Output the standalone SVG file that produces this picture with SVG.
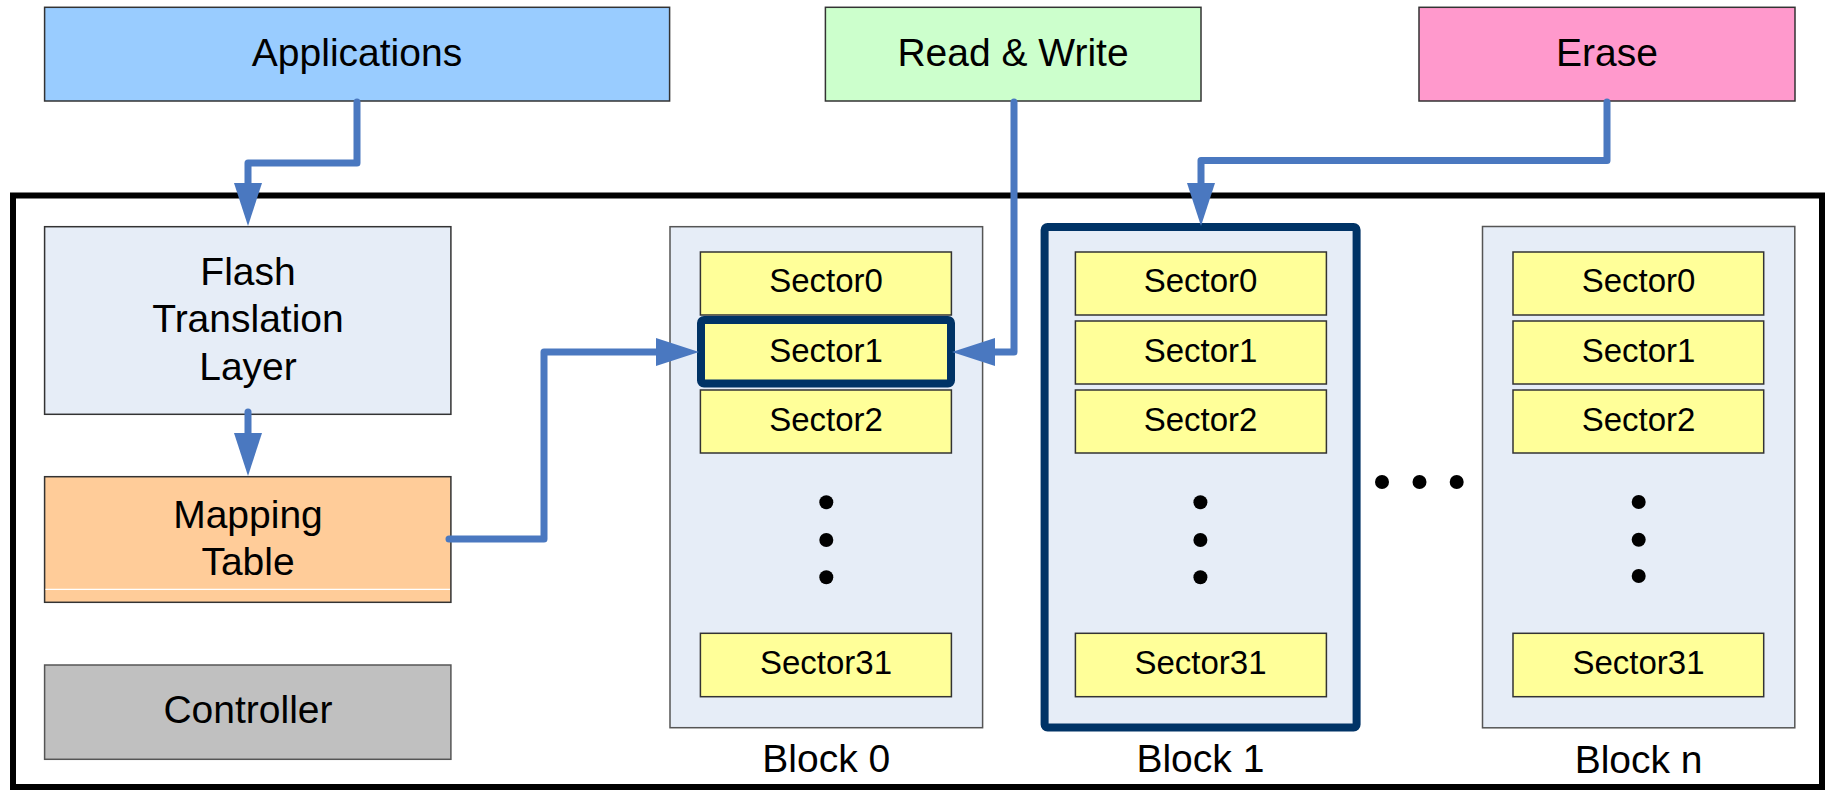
<svg xmlns="http://www.w3.org/2000/svg" width="1825" height="790" viewBox="0 0 1825 790">
<style>
.box{stroke:#333;stroke-width:1.5}
.lbl{font-family:"Liberation Sans",Arial,sans-serif;font-size:39px;fill:#000;text-anchor:middle}
.sec{fill:#FFFF99;stroke:#333;stroke-width:1.5}
.stxt{font-family:"Liberation Sans",Arial,sans-serif;font-size:33px;fill:#000;text-anchor:middle}
.blk{fill:#E6EDF7;stroke:#555;stroke-width:1.5}
.hl{stroke:#003366;stroke-width:8}
.conn{fill:none;stroke:#4A78C0;stroke-width:7;stroke-linecap:round;stroke-linejoin:round}
.dot{fill:#000}
</style>
<defs>
<marker id="ah" markerUnits="userSpaceOnUse" markerWidth="44" markerHeight="30" refX="0" refY="14" orient="auto">
<path d="M0,0 L43,14 L0,28 z" fill="#4A78C0"/>
</marker>
</defs>
<rect id="container" x="13" y="195.5" width="1809" height="591.5" fill="#fff" stroke="#000" stroke-width="6"/>
<g id="applications">
<rect class="box" x="44.6" y="7.3" width="625" height="93.7" fill="#99CCFF"/>
<text class="lbl" x="357" y="66">Applications</text>
</g>
<g id="readwrite">
<rect class="box" x="825.4" y="7.3" width="375.6" height="93.7" fill="#CCFFCC"/>
<text class="lbl" x="1013" y="66">Read &amp; Write</text>
</g>
<g id="erase">
<rect class="box" x="1419" y="7.3" width="376" height="93.7" fill="#FF99CC"/>
<text class="lbl" x="1607" y="66">Erase</text>
</g>
<g id="ftl">
<rect class="box" x="44.6" y="226.7" width="406.3" height="187.6" fill="#E6EDF7"/>
<text class="lbl" x="248" y="285">Flash</text>
<text class="lbl" x="248" y="332">Translation</text>
<text class="lbl" x="248" y="379.5">Layer</text>
</g>
<g id="mapping">
<rect class="box" x="44.6" y="476.7" width="406.3" height="125.6" fill="#FFCC99"/>
<line x1="45.5" y1="589.3" x2="450" y2="589.3" stroke="#fff" stroke-width="1.2"/>
<text class="lbl" x="248" y="528">Mapping</text>
<text class="lbl" x="248" y="575">Table</text>
</g>
<g id="controller">
<rect x="44.6" y="665" width="406.3" height="94.3" fill="#C0C0C0" stroke="#555" stroke-width="1.5"/>
<text class="lbl" x="248" y="723">Controller</text>
</g>
<g id="block0">
<rect class="blk" x="670" y="226.7" width="312.6" height="501"/>
<rect class="sec" x="700.4" y="252" width="251" height="63"/>
<text class="stxt" x="826" y="292">Sector0</text>
<rect class="sec hl" x="701" y="320" width="250" height="63.5" rx="3"/>
<text class="stxt" x="826" y="362">Sector1</text>
<rect class="sec" x="700.4" y="390" width="251" height="63"/>
<text class="stxt" x="826" y="431">Sector2</text>
<circle class="dot" cx="826.3" cy="502.3" r="7"/>
<circle class="dot" cx="826.3" cy="540" r="7"/>
<circle class="dot" cx="826.3" cy="577.3" r="7"/>
<rect class="sec" x="700.4" y="633.3" width="251" height="63.4"/>
<text class="stxt" x="826" y="674">Sector31</text>
<text class="lbl" x="826.3" y="772">Block 0</text>
</g>
<g id="block1">
<rect x="1044.6" y="227" width="312" height="500.5" rx="3" fill="#E6EDF7" stroke="#003366" stroke-width="8"/>
<rect class="sec" x="1075.4" y="252" width="251" height="63"/>
<text class="stxt" x="1200.5" y="292">Sector0</text>
<rect class="sec" x="1075.4" y="321" width="251" height="63"/>
<text class="stxt" x="1200.5" y="362">Sector1</text>
<rect class="sec" x="1075.4" y="390" width="251" height="63"/>
<text class="stxt" x="1200.5" y="431">Sector2</text>
<circle class="dot" cx="1200.4" cy="502.3" r="7"/>
<circle class="dot" cx="1200.4" cy="540" r="7"/>
<circle class="dot" cx="1200.4" cy="577.3" r="7"/>
<rect class="sec" x="1075.4" y="633.3" width="251" height="63.4"/>
<text class="stxt" x="1200.5" y="674">Sector31</text>
<text class="lbl" x="1200.4" y="772">Block 1</text>
</g>
<g id="ellipsis">
<circle class="dot" cx="1382" cy="482" r="7"/>
<circle class="dot" cx="1419.5" cy="482" r="7"/>
<circle class="dot" cx="1456.7" cy="482" r="7"/>
</g>
<g id="blockn">
<rect class="blk" x="1482.5" y="226.5" width="312.3" height="501.3"/>
<rect class="sec" x="1513" y="252" width="250.7" height="63"/>
<text class="stxt" x="1638.5" y="292">Sector0</text>
<rect class="sec" x="1513" y="321" width="250.7" height="63"/>
<text class="stxt" x="1638.5" y="362">Sector1</text>
<rect class="sec" x="1513" y="390" width="250.7" height="63"/>
<text class="stxt" x="1638.5" y="431">Sector2</text>
<circle class="dot" cx="1638.7" cy="502" r="7"/>
<circle class="dot" cx="1638.7" cy="539.7" r="7"/>
<circle class="dot" cx="1638.7" cy="576" r="7"/>
<rect class="sec" x="1513" y="633.3" width="250.7" height="63.4"/>
<text class="stxt" x="1638.5" y="674">Sector31</text>
<text class="lbl" x="1638.6" y="773">Block n</text>
</g>
<g id="connectors">
<path class="conn" d="M357,102 V163 H248 V183" marker-end="url(#ah)"/>
<path class="conn" d="M248,412 V433" marker-end="url(#ah)"/>
<path class="conn" d="M449,539 H544 V352 H656" marker-end="url(#ah)"/>
<path class="conn" d="M1014,102 V352 H995" marker-end="url(#ah)"/>
<path class="conn" d="M1607,102 V160.5 H1201 V183" marker-end="url(#ah)"/>
</g>
</svg>
